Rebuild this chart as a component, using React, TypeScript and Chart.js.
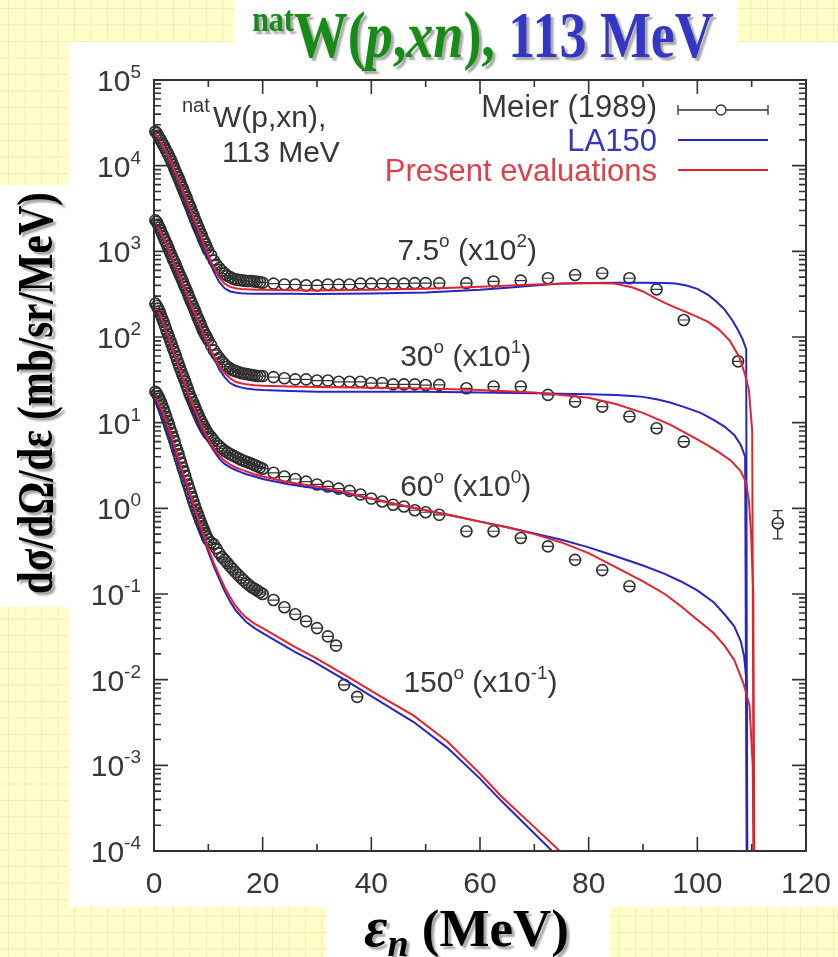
import React, { useEffect, useRef } from "react";
import { Chart, registerables } from "chart.js";
Chart.register(...registerables);

// ---------------- data ----------------
// Meier (1989) experimental points (already multiplied by the angle factor)
// dense low-energy grid shared by all four angles
const meierELow = [0.25, 0.5, 0.75, 1, 1.25, 1.5, 1.75, 2, 2.25, 2.5, 2.75, 3, 3.25, 3.5, 3.75, 4, 4.25, 4.5, 4.75, 5,
  5.25, 5.5, 5.75, 6, 6.25, 6.5, 6.75, 7, 7.25, 7.5, 7.75, 8, 8.25, 8.5, 8.75, 9, 9.25, 9.5, 9.75, 10,
  10.5, 11, 11.5, 12, 12.5, 13, 13.5, 14, 14.5, 15, 15.5, 16, 16.5, 17, 17.5, 18, 18.5, 19, 19.5, 20];

const meierV75Low = [25000, 24000, 22500, 21000, 19700, 18500, 17300, 16200, 15000, 14000, 13000, 12000, 11100, 10200, 9300, 8500, 7800, 7200, 6600, 6000,
  5500, 5000, 4600, 4200, 3800, 3500, 3200, 2900, 2650, 2400, 2200, 2000, 1850, 1700, 1550, 1400, 1300, 1200, 1100, 1020,
  900, 780, 700, 640, 590, 550, 520, 500, 480, 470, 465, 460, 455, 450, 450, 450, 445, 440, 435, 430];
const meierE75High = [22, 24, 26, 28, 30, 32, 34, 36, 38, 40, 42, 44, 46, 48, 50,
  52.5, 57.5, 62.5, 67.5, 72.5, 77.5, 82.5, 87.5, 92.5, 97.5, 107.5];
const meierV75High = [420, 410, 410, 400, 400, 410, 410, 410, 420, 420, 420, 420, 420, 425, 425,
  425, 425, 445, 455, 485, 530, 555, 485, 360, 158, 52];

const meierV30Low = [2300, 2200, 2050, 1900, 1750, 1600, 1470, 1350, 1250, 1150, 1050, 960, 880, 810, 750, 690, 630, 580, 530, 490,
  450, 410, 380, 350, 320, 290, 265, 245, 225, 205, 188, 170, 157, 145, 132, 120, 112, 105, 98, 92,
  80, 70, 63, 57, 52, 48, 45, 43, 41, 40, 39, 38, 37.5, 37, 36.5, 36, 35.5, 35, 35, 35];
const meierE30High = [22, 24, 26, 28, 30, 32, 34, 36, 38, 40, 42, 44, 46, 48, 50,
  52.5, 57.5, 62.5, 67.5, 72.5, 77.5, 82.5, 87.5, 92.5, 97.5];
const meierV30High = [34, 33, 32, 32, 31, 31, 30, 30, 30, 29, 29, 28, 28, 28, 27.5,
  27.6, 25.2, 26.4, 26.4, 21.1, 17.6, 15.4, 11.8, 8.6, 6.0];

const meierV60Low = [245, 230, 215, 200, 182, 165, 150, 135, 122, 110, 100, 90, 82, 74, 67, 60, 54, 49, 44, 40,
  36, 33, 30, 27, 24.5, 22, 20, 18.5, 17, 15.5, 14.2, 13, 12, 11, 10.2, 9.5, 8.9, 8.3, 7.8, 7.4,
  6.8, 6.2, 5.7, 5.3, 5.0, 4.7, 4.5, 4.3, 4.15, 4.0, 3.85, 3.7, 3.6, 3.5, 3.4, 3.3, 3.2, 3.1, 3.0, 2.9];
const meierE60High = [22, 24, 26, 28, 30, 32, 34, 36, 38, 40, 42, 44, 46, 48, 50,
  52.5, 57.5, 62.5, 67.5, 72.5, 77.5, 82.5, 87.5];
const meierV60High = [2.6, 2.35, 2.2, 2.05, 1.9, 1.8, 1.7, 1.6, 1.45, 1.3, 1.2, 1.1, 1.05, 0.95, 0.9,
  0.84, 0.54, 0.54, 0.45, 0.36, 0.25, 0.19, 0.123];

const meierV150Low = [23, 22, 20.5, 19, 17.5, 16, 14.5, 13, 11.7, 10.5, 9.5, 8.5, 7.6, 6.8, 6.1, 5.4, 4.8, 4.3, 3.8, 3.4,
  3.0, 2.7, 2.4, 2.1, 1.9, 1.7, 1.5, 1.35, 1.2, 1.08, 0.97, 0.88, 0.8, 0.72, 0.66, 0.6, 0.55, 0.5, 0.46, 0.43,
  0.4, 0.38, 0.34, 0.3, 0.27, 0.25, 0.23, 0.21, 0.195, 0.18, 0.167, 0.155, 0.145, 0.135, 0.127, 0.12, 0.115, 0.11, 0.105, 0.1];
const meierE150High = [22, 24, 26, 28, 30, 32, 33.5, 35, 37.4];
const meierV150High = [0.085, 0.07, 0.058, 0.048, 0.04, 0.032, 0.025, 0.0087, 0.0063];

// isolated point with vertical error bar
const extraE = [114.8];
const extraV = [0.67];
const extraLo = [0.44];
const extraHi = [0.94];

// LA150 (blue) curves
const la75E = [0, 1, 2, 3, 4, 5, 6, 7, 8, 9, 10, 11, 12, 13, 14, 15, 16, 17, 18.5, 20, 25, 30, 40, 50, 60, 65, 70, 75, 80, 85, 90, 94, 96, 98, 100, 102, 103.5, 105, 106.5, 107.5, 108.3, 109, 109.2];
const la75V = [24000, 19500, 15000, 11000, 7800, 5400, 3700, 2550, 1750, 1200, 820, 580, 440, 370, 340, 330, 325, 322, 320, 320, 319, 318, 322, 330, 355, 375, 400, 420, 428, 430, 430, 428, 420, 400, 365, 310, 260, 210, 155, 120, 95, 72, 1e-6];
const la30E = [0, 1, 2, 3, 4, 5, 6, 7, 8, 9, 10, 11, 12, 13, 14, 15, 16, 17, 18.5, 20, 25, 30, 40, 50, 60, 70, 80, 85, 88, 90, 92.7, 95, 97.5, 100.6, 103, 105, 106.8, 108, 108.8, 109.2];
const la30V = [2100, 1720, 1270, 900, 630, 440, 305, 215, 152, 108, 78, 57, 42, 34, 29, 27, 25.8, 25, 24.4, 24, 23.5, 23, 23, 23, 22.5, 22, 21.5, 21, 20.5, 20, 18.6, 17.2, 15.3, 13, 10.8, 9, 7.2, 5.5, 4, 1e-6];
const la60E = [0, 1, 2, 3, 4, 5, 6, 7, 8, 9, 10, 11, 12, 13, 14, 15, 16, 17, 18.5, 20, 25, 30, 35, 40, 45, 50, 55, 60, 65, 70, 75, 80, 84.7, 90, 94, 97, 100, 103, 105, 106.8, 108, 108.6, 109.1, 109.3];
const la60V = [220, 180, 125, 82, 54, 36, 24, 16, 11, 7.9, 6.0, 4.7, 3.8, 3.3, 3.0, 2.8, 2.65, 2.5, 2.35, 2.2, 1.9, 1.7, 1.5, 1.3, 1.1, 0.95, 0.82, 0.7, 0.6, 0.51, 0.43, 0.35, 0.28, 0.215, 0.172, 0.14, 0.11, 0.08, 0.058, 0.042, 0.028, 0.019, 0.009, 1e-6];
const la150E = [0, 1, 2, 3, 4, 5, 6, 7, 8, 9, 10, 11, 12, 13, 14, 15, 16, 17, 18.5, 20, 23, 26, 29.4, 35.5, 41.7, 47.8, 54, 60, 64, 70, 74, 80];
const la150V = [20, 14.5, 10.3, 6.7, 4.3, 2.7, 1.75, 1.12, 0.72, 0.47, 0.31, 0.21, 0.15, 0.108, 0.082, 0.065, 0.055, 0.047, 0.04, 0.035, 0.027, 0.021, 0.0162, 0.0096, 0.0055, 0.0032, 0.0016, 7e-4, 3.8e-4, 1.6e-4, 9e-5, 4e-5];

// Present evaluations (red) curves
const pe75E = [0, 1, 2, 3, 4, 5, 6, 7, 8, 9, 10, 11, 12, 13, 14, 15, 16, 17, 18.5, 20, 25, 30, 40, 50, 60, 70, 78, 82, 84.7, 86, 88, 90, 92, 94, 96, 98, 100, 102, 104, 106, 107.7, 108.7, 109.5, 110.1, 110.5];
const pe75V = [25000, 20000, 15500, 11500, 8200, 5700, 4000, 2750, 1900, 1300, 900, 650, 500, 420, 385, 370, 364, 360, 357, 355, 352, 350, 355, 365, 385, 410, 425, 425, 420, 405, 380, 340, 290, 250, 220, 195, 172, 150, 122, 90, 59, 38, 24, 8, 1e-6];
const pe30E = [0, 1, 2, 3, 4, 5, 6, 7, 8, 9, 10, 11, 12, 13, 14, 15, 16, 17, 18.5, 20, 25, 30, 40, 50, 60, 70, 75, 80, 85, 90, 95, 100, 102, 104, 106.2, 108, 109, 109.5, 109.9, 110.3, 110.6];
const pe30V = [2200, 1800, 1330, 940, 660, 460, 320, 225, 160, 113, 82, 60, 46, 38, 33, 30, 28.8, 28, 27.4, 27, 26.5, 26, 25.5, 25, 24, 22.5, 21, 19.5, 16.5, 13, 9.5, 6.4, 5.4, 4.5, 3.6, 2.7, 2.0, 1.2, 0.5, 0.1, 1e-6];
const pe60E = [0, 1, 2, 3, 4, 5, 6, 7, 8, 9, 10, 11, 12, 13, 14, 15, 16, 17, 18.5, 20, 25, 30, 35, 40, 45, 50, 55, 60, 65, 70, 75, 80, 84.7, 90, 94, 97, 100, 103, 105, 106.8, 108.5, 109.6, 110.2, 110.6];
const pe60V = [230, 190, 130, 86, 57, 38, 25, 17, 12, 8.5, 6.4, 5.0, 4.1, 3.6, 3.25, 3.0, 2.85, 2.7, 2.5, 2.35, 2.0, 1.8, 1.55, 1.3, 1.1, 0.95, 0.82, 0.7, 0.6, 0.5, 0.4, 0.3, 0.21, 0.14, 0.1, 0.072, 0.05, 0.035, 0.025, 0.017, 0.009, 0.005, 0.001, 1e-6];
const pe150E = [0, 1, 2, 3, 4, 5, 6, 7, 8, 9, 10, 11, 12, 13, 14, 15, 16, 17, 18.5, 20, 23, 26, 29.4, 35.5, 41.7, 47.8, 54, 60, 64, 70, 74, 80];
const pe150V = [22, 16, 11.5, 7.5, 4.8, 3.0, 1.95, 1.25, 0.8, 0.52, 0.34, 0.23, 0.165, 0.12, 0.092, 0.073, 0.061, 0.053, 0.045, 0.04, 0.031, 0.024, 0.0185, 0.011, 0.0064, 0.0038, 0.0019, 8e-4, 4.3e-4, 1.9e-4, 1.1e-4, 4.5e-5];

// ticks
const xMajorTicks = [0, 20, 40, 60, 80, 100, 120];
const xMinorTicks = [10, 30, 50, 70, 90, 110];
const yExponents = [-4, -3, -2, -1, 0, 1, 2, 3, 4, 5];
const yMinorMult = [2, 3, 4, 5, 6, 7, 8, 9];

// angle labels
const angleNames = ["7.5", "30", "60", "150"];
const angleFactors = ["2", "1", "0", "-1"];

// ---------------- styling / layout ----------------
const W = 838;
const H = 957;
const SANS = '"Liberation Sans", Arial, Helvetica, sans-serif';
const SERIF = '"Liberation Serif", "Times New Roman", Times, serif';
const RED = "#e3242f";
const BLUE = "#2626c4";
const GREEN = "#168c16";
const TBLUE = "#3535c6";
const TXT = "#383838";

// label anchors (data coordinates: energy, value)
const angleAnchorE = [44.8, 45.3, 45.3, 45.9];
const angleAnchorV = [790, 46, 1.4, 0.0072];

type Run = { t: string; size: number; dy?: number; weight?: string; style?: string; color: string; family: string };

function fontOf(r: Run) {
  return `${r.style || "normal"} ${r.weight || "normal"} ${r.size}px ${r.family}`;
}

function drawRuns(ctx: CanvasRenderingContext2D, runs: Run[], x: number, y: number, align: "left" | "right" | "center") {
  let total = 0;
  const widths: number[] = [];
  for (const r of runs) {
    ctx.font = fontOf(r);
    const w = ctx.measureText(r.t).width;
    widths.push(w);
    total += w;
  }
  let cx = align === "left" ? x : align === "right" ? x - total : x - total / 2;
  runs.forEach((r, i) => {
    ctx.font = fontOf(r);
    ctx.fillStyle = r.color;
    ctx.fillText(r.t, cx, y + (r.dy || 0));
    cx += widths[i];
  });
}

const zip = (xs: number[], ys: number[]) => xs.map((x, i) => ({ x, y: ys[i] }));

const decorPlugin = {
  id: "decor",
  beforeDraw(chart: any) {
    const ctx: CanvasRenderingContext2D = chart.ctx;
    ctx.save();
    // yellow grid paper
    ctx.fillStyle = "#ffffca";
    ctx.fillRect(0, 0, W, H);
    ctx.strokeStyle = "#f1ecb2";
    ctx.lineWidth = 1;
    ctx.beginPath();
    for (let x = 8.5; x < W; x += 16.5) {
      ctx.moveTo(x, 0);
      ctx.lineTo(x, H);
    }
    for (let y = 8.5; y < H; y += 16.5) {
      ctx.moveTo(0, y);
      ctx.lineTo(W, y);
    }
    ctx.stroke();
    // white panels
    ctx.fillStyle = "#ffffff";
    ctx.fillRect(234, 0, 504, 70);
    ctx.fillRect(69, 42, W - 69, 907 - 42);
    ctx.fillRect(0, 185, 69, 422);
    ctx.fillRect(326, 907, 284, 50);
    ctx.restore();
  },
  afterDatasetDraw(chart: any, args: any) {
    const ds = chart.data.datasets[args.index];
    if (!ds.meier) return;
    const ctx: CanvasRenderingContext2D = chart.ctx;
    const a = chart.chartArea;
    ctx.save();
    ctx.beginPath();
    ctx.rect(a.left - 8, a.top, a.right - a.left + 8, a.bottom - a.top);
    ctx.clip();
    ctx.strokeStyle = "#333333";
    ctx.lineWidth = 1.2;
    ctx.beginPath();
    for (const p of args.meta.data) {
      ctx.moveTo(p.x - 5.5, p.y);
      ctx.lineTo(p.x + 5.5, p.y);
    }
    ctx.stroke();
    ctx.restore();
  },
  afterDraw(chart: any) {
    const ctx: CanvasRenderingContext2D = chart.ctx;
    const xs = chart.scales.x;
    const ys = chart.scales.y;
    const a = chart.chartArea;
    ctx.save();

    // extra point error bars
    ctx.strokeStyle = "#333333";
    ctx.lineWidth = 1.4;
    extraE.forEach((e, i) => {
      const px = xs.getPixelForValue(e);
      const pLo = ys.getPixelForValue(extraLo[i]);
      const pHi = ys.getPixelForValue(extraHi[i]);
      const py = ys.getPixelForValue(extraV[i]);
      ctx.beginPath();
      ctx.moveTo(px, pHi);
      ctx.lineTo(px, py - 5.5);
      ctx.moveTo(px, py + 5.5);
      ctx.lineTo(px, pLo);
      ctx.moveTo(px - 5, pHi);
      ctx.lineTo(px + 5, pHi);
      ctx.moveTo(px - 5, pLo);
      ctx.lineTo(px + 5, pLo);
      ctx.stroke();
    });

    // frame
    ctx.strokeStyle = "#333";
    ctx.lineWidth = 2;
    ctx.strokeRect(a.left, a.top, a.right - a.left, a.bottom - a.top);

    // x ticks
    ctx.lineWidth = 1.6;
    ctx.beginPath();
    for (const v of xMajorTicks) {
      const px = xs.getPixelForValue(v);
      ctx.moveTo(px, a.bottom);
      ctx.lineTo(px, a.bottom - 14);
      ctx.moveTo(px, a.top);
      ctx.lineTo(px, a.top + 14);
    }
    for (const v of xMinorTicks) {
      const px = xs.getPixelForValue(v);
      ctx.moveTo(px, a.bottom);
      ctx.lineTo(px, a.bottom - 7);
      ctx.moveTo(px, a.top);
      ctx.lineTo(px, a.top + 7);
    }
    // y ticks
    for (const ex of yExponents) {
      const py = ys.getPixelForValue(Math.pow(10, ex));
      ctx.moveTo(a.left, py);
      ctx.lineTo(a.left + 14, py);
      ctx.moveTo(a.right, py);
      ctx.lineTo(a.right - 14, py);
      if (ex < 5) {
        for (const m of yMinorMult) {
          const pm = ys.getPixelForValue(m * Math.pow(10, ex));
          ctx.moveTo(a.left, pm);
          ctx.lineTo(a.left + 7, pm);
          ctx.moveTo(a.right, pm);
          ctx.lineTo(a.right - 7, pm);
        }
      }
    }
    ctx.stroke();

    // tick labels
    ctx.textBaseline = "alphabetic";
    for (const v of xMajorTicks) {
      const px = xs.getPixelForValue(v);
      drawRuns(ctx, [{ t: String(v), size: 30, color: TXT, family: SANS }], px, a.bottom + 42, "center");
    }
    for (const ex of yExponents) {
      const py = ys.getPixelForValue(Math.pow(10, ex));
      drawRuns(
        ctx,
        [
          { t: "10", size: 30, color: TXT, family: SANS },
          { t: String(ex), size: 19, dy: -13, color: TXT, family: SANS },
        ],
        a.left - 13,
        py + 11,
        "right"
      );
    }

    // legend
    const lx0 = 678;
    const lx1 = 768;
    drawRuns(ctx, [{ t: "Meier (1989)", size: 31, color: TXT, family: SANS }], 657, 117, "right");
    drawRuns(ctx, [{ t: "LA150", size: 31, color: TBLUE, family: SANS }], 657, 151, "right");
    drawRuns(ctx, [{ t: "Present evaluations", size: 31, color: "#e0404a", family: SANS }], 657, 181, "right");
    ctx.strokeStyle = "#333333";
    ctx.lineWidth = 1.3;
    ctx.beginPath();
    ctx.moveTo(lx0, 110);
    ctx.lineTo(716, 110);
    ctx.moveTo(726, 110);
    ctx.lineTo(lx1, 110);
    ctx.moveTo(lx0, 105);
    ctx.lineTo(lx0, 115);
    ctx.moveTo(lx1, 105);
    ctx.lineTo(lx1, 115);
    ctx.stroke();
    ctx.beginPath();
    ctx.arc(721, 110, 5, 0, Math.PI * 2);
    ctx.stroke();
    ctx.lineWidth = 2;
    ctx.strokeStyle = BLUE;
    ctx.beginPath();
    ctx.moveTo(lx0, 140);
    ctx.lineTo(lx1, 140);
    ctx.stroke();
    ctx.strokeStyle = RED;
    ctx.beginPath();
    ctx.moveTo(lx0, 170);
    ctx.lineTo(lx1, 170);
    ctx.stroke();

    // reaction annotation
    drawRuns(ctx, [{ t: "nat", size: 20, color: TXT, family: SANS }], 182, 112, "left");
    drawRuns(ctx, [{ t: "W(p,xn),", size: 30, color: TXT, family: SANS }], 213, 127, "left");
    drawRuns(ctx, [{ t: "113 MeV", size: 30, color: TXT, family: SANS }], 222, 162, "left");

    // angle labels
    angleNames.forEach((nm, i) => {
      const px = xs.getPixelForValue(angleAnchorE[i]);
      const py = ys.getPixelForValue(angleAnchorV[i]);
      drawRuns(
        ctx,
        [
          { t: nm, size: 30, color: TXT, family: SANS },
          { t: "o", size: 19, dy: -13, color: TXT, family: SANS },
          { t: " (x10", size: 30, color: TXT, family: SANS },
          { t: angleFactors[i], size: 19, dy: -13, color: TXT, family: SANS },
          { t: ")", size: 30, color: TXT, family: SANS },
        ],
        px,
        py,
        "left"
      );
    });

    // title, axis titles with drop shadow
    ctx.shadowColor = "rgba(60,60,60,0.45)";
    ctx.shadowOffsetX = 3;
    ctx.shadowOffsetY = 3;
    ctx.shadowBlur = 2;

    ctx.save();
    ctx.translate(483, 57);
    ctx.scale(1, 1.2);
    drawRuns(
      ctx,
      [
        { t: "nat", size: 30, dy: -22, weight: "bold", color: GREEN, family: SERIF },
        { t: "W(", size: 54, weight: "bold", color: GREEN, family: SERIF },
        { t: "p", size: 54, weight: "bold", style: "italic", color: GREEN, family: SERIF },
        { t: ",", size: 54, weight: "bold", color: GREEN, family: SERIF },
        { t: "xn", size: 54, weight: "bold", style: "italic", color: GREEN, family: SERIF },
        { t: "),", size: 54, weight: "bold", color: GREEN, family: SERIF },
        { t: " 113 MeV", size: 54, weight: "bold", color: TBLUE, family: SERIF },
      ],
      0,
      0,
      "center"
    );
    ctx.restore();

    // y axis title
    ctx.save();
    ctx.translate(39, 393);
    ctx.rotate(-Math.PI / 2);
    ctx.scale(1, 1.25);
    ctx.textBaseline = "middle";
    drawRuns(ctx, [{ t: "dσ/dΩ/dε (mb/sr/MeV)", size: 41, weight: "bold", color: "#000", family: SERIF }], 0, 0, "center");
    ctx.restore();

    // x axis title
    drawRuns(
      ctx,
      [
        { t: "ε", size: 57, weight: "bold", style: "italic", color: "#000", family: SERIF },
        { t: "n", size: 38, dy: 10, weight: "bold", style: "italic", color: "#000", family: SERIF },
        { t: " (MeV)", size: 53, weight: "bold", color: "#000", family: SERIF },
      ],
      364,
      946,
      "left"
    );
    ctx.restore();
  },
};

export default function App() {
  const ref = useRef<HTMLCanvasElement>(null);
  useEffect(() => {
    const canvas = ref.current as HTMLCanvasElement;
    const meier = (xs: number[], ys: number[]) => ({
      data: zip(xs, ys),
      showLine: false,
      pointRadius: 5.5,
      pointStyle: "circle",
      pointBorderColor: "#2e2e2e",
      pointBackgroundColor: "rgba(255,255,255,0)",
      pointBorderWidth: 1.6,
      order: 3,
      clip: { left: 8, top: 0, right: 0, bottom: 0 },
      meier: true,
    });
    const curve = (xs: number[], ys: number[], color: string, order: number) => ({
      data: zip(xs, ys),
      showLine: true,
      pointRadius: 0,
      borderColor: color,
      borderWidth: 2,
      tension: 0,
      fill: false,
      clip: 0,
      order,
    });
    const datasets: any[] = [
      { label: "Meier 7.5", ...meier(meierELow.concat(meierE75High), meierV75Low.concat(meierV75High)) },
      { label: "Meier 30", ...meier(meierELow.concat(meierE30High), meierV30Low.concat(meierV30High)) },
      { label: "Meier 60", ...meier(meierELow.concat(meierE60High), meierV60Low.concat(meierV60High)) },
      { label: "Meier 150", ...meier(meierELow.concat(meierE150High), meierV150Low.concat(meierV150High)) },
      { label: "Meier extra", ...meier(extraE, extraV) },
      { label: "LA150 7.5", ...curve(la75E, la75V, BLUE, 2) },
      { label: "LA150 30", ...curve(la30E, la30V, BLUE, 2) },
      { label: "LA150 60", ...curve(la60E, la60V, BLUE, 2) },
      { label: "LA150 150", ...curve(la150E, la150V, BLUE, 2) },
      { label: "Present 7.5", ...curve(pe75E, pe75V, RED, 1) },
      { label: "Present 30", ...curve(pe30E, pe30V, RED, 1) },
      { label: "Present 60", ...curve(pe60E, pe60V, RED, 1) },
      { label: "Present 150", ...curve(pe150E, pe150V, RED, 1) },
    ];
    const chart = new Chart(canvas, {
      type: "scatter",
      data: { datasets },
      options: {
        responsive: false,
        animation: false,
        devicePixelRatio: 1,
        events: [],
        layout: { padding: { left: 154, top: 80, right: 32, bottom: 106 } },
        plugins: { legend: { display: false }, tooltip: { enabled: false } },
        scales: {
          x: { type: "linear", min: 0, max: 120, display: false },
          y: { type: "logarithmic", min: 1e-4, max: 1e5, display: false },
        },
      } as any,
      plugins: [decorPlugin],
    });
    return () => chart.destroy();
  }, []);
  return (
    <div style={{ position: "absolute", left: 0, top: 0, width: W, height: H, overflow: "hidden" }}>
      <canvas ref={ref} width={W} height={H} style={{ width: W, height: H, display: "block" }} />
    </div>
  );
}
